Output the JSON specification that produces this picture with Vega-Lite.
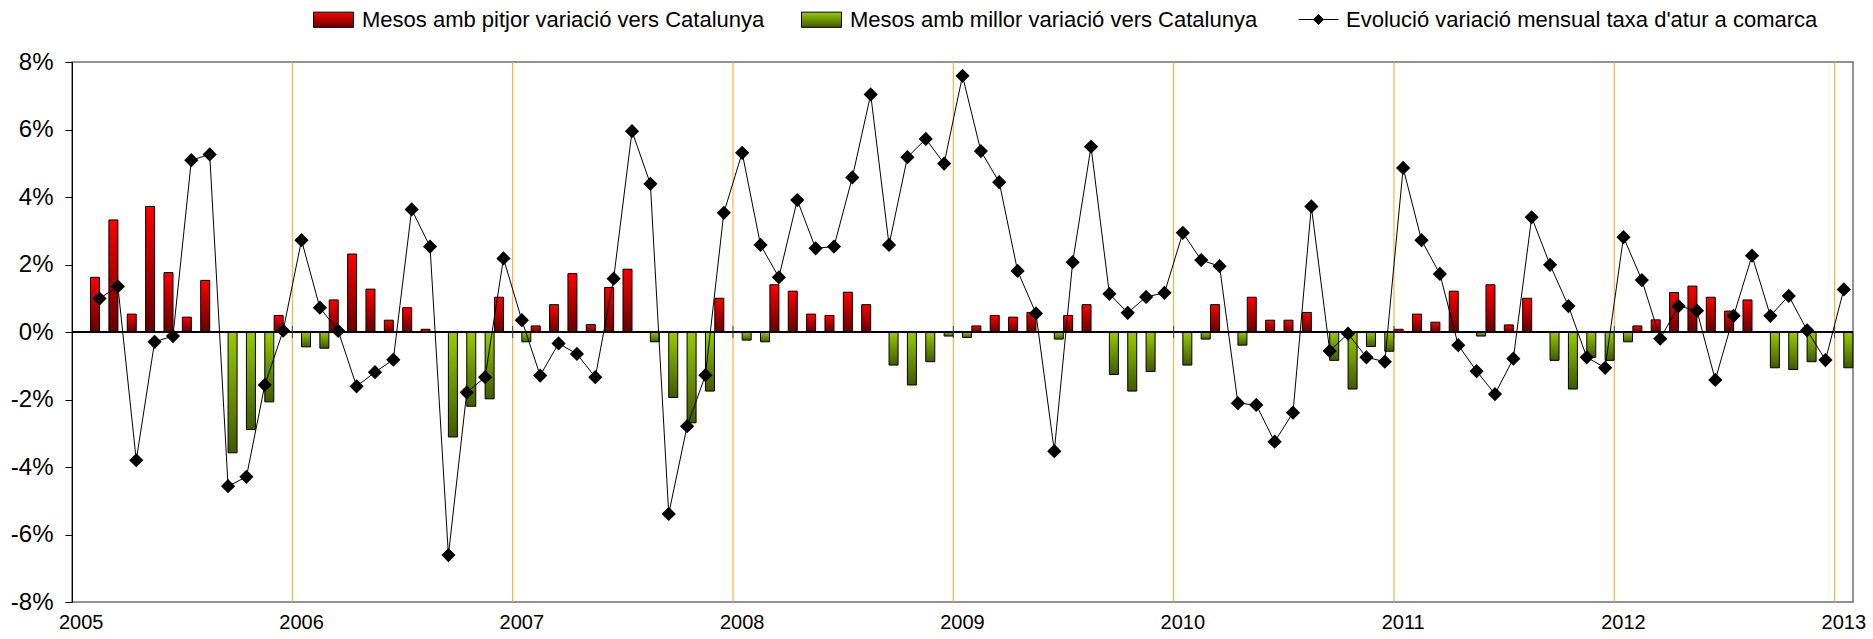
{
"$schema": "https://vega.github.io/schema/vega-lite/v6.json",
"width": 1781, "height": 540,
"autosize": {"type": "none"},
"padding": {"left": 72, "top": 62, "right": 20, "bottom": 37},
"config": {"view": {"stroke": "#707070", "strokeWidth": 1.5}, "font": "Liberation Sans", "axis": {"labelFont": "Liberation Sans"}, "legend": {"labelFont": "Liberation Sans"}},
"data": {"values": [
{"m":"2005-02","s":"pitjor","v":1.62},{"m":"2005-02","s":"evol","v":0.99},
{"m":"2005-03","s":"pitjor","v":3.32},{"m":"2005-03","s":"evol","v":1.35},
{"m":"2005-04","s":"pitjor","v":0.53},{"m":"2005-04","s":"evol","v":-3.80},
{"m":"2005-05","s":"pitjor","v":3.72},{"m":"2005-05","s":"evol","v":-0.29},
{"m":"2005-06","s":"pitjor","v":1.76},{"m":"2005-06","s":"evol","v":-0.12},
{"m":"2005-07","s":"pitjor","v":0.44},{"m":"2005-07","s":"evol","v":5.09},
{"m":"2005-08","s":"pitjor","v":1.53},{"m":"2005-08","s":"evol","v":5.26},
{"m":"2005-09","s":"millor","v":-3.58},{"m":"2005-09","s":"evol","v":-4.57},
{"m":"2005-10","s":"millor","v":-2.89},{"m":"2005-10","s":"evol","v":-4.29},
{"m":"2005-11","s":"millor","v":-2.07},{"m":"2005-11","s":"evol","v":-1.57},
{"m":"2005-12","s":"pitjor","v":0.49},{"m":"2005-12","s":"evol","v":0.04},
{"m":"2006-01","s":"millor","v":-0.44},{"m":"2006-01","s":"evol","v":2.72},
{"m":"2006-02","s":"millor","v":-0.48},{"m":"2006-02","s":"evol","v":0.72},
{"m":"2006-03","s":"pitjor","v":0.95},{"m":"2006-03","s":"evol","v":0.03},
{"m":"2006-04","s":"pitjor","v":2.31},{"m":"2006-04","s":"evol","v":-1.61},
{"m":"2006-05","s":"pitjor","v":1.27},{"m":"2006-05","s":"evol","v":-1.19},
{"m":"2006-06","s":"pitjor","v":0.35},{"m":"2006-06","s":"evol","v":-0.82},
{"m":"2006-07","s":"pitjor","v":0.72},{"m":"2006-07","s":"evol","v":3.63},
{"m":"2006-08","s":"pitjor","v":0.08},{"m":"2006-08","s":"evol","v":2.53},
{"m":"2006-09","s":"millor","v":-3.11},{"m":"2006-09","s":"evol","v":-6.61},
{"m":"2006-10","s":"millor","v":-2.20},{"m":"2006-10","s":"evol","v":-1.79},
{"m":"2006-11","s":"millor","v":-1.98},{"m":"2006-11","s":"evol","v":-1.34},
{"m":"2006-12","s":"pitjor","v":1.03},{"m":"2006-12","s":"evol","v":2.18},
{"m":"2007-01","s":"millor","v":-0.29},{"m":"2007-01","s":"evol","v":0.35},
{"m":"2007-02","s":"pitjor","v":0.18},{"m":"2007-02","s":"evol","v":-1.29},
{"m":"2007-03","s":"pitjor","v":0.81},{"m":"2007-03","s":"evol","v":-0.34},
{"m":"2007-04","s":"pitjor","v":1.73},{"m":"2007-04","s":"evol","v":-0.65},
{"m":"2007-05","s":"pitjor","v":0.22},{"m":"2007-05","s":"evol","v":-1.34},
{"m":"2007-06","s":"pitjor","v":1.32},{"m":"2007-06","s":"evol","v":1.58},
{"m":"2007-07","s":"pitjor","v":1.86},{"m":"2007-07","s":"evol","v":5.95},
{"m":"2007-08","s":"millor","v":-0.29},{"m":"2007-08","s":"evol","v":4.39},
{"m":"2007-09","s":"millor","v":-1.94},{"m":"2007-09","s":"evol","v":-5.39},
{"m":"2007-10","s":"millor","v":-2.69},{"m":"2007-10","s":"evol","v":-2.79},
{"m":"2007-11","s":"millor","v":-1.75},{"m":"2007-11","s":"evol","v":-1.28},
{"m":"2007-12","s":"pitjor","v":1.00},{"m":"2007-12","s":"evol","v":3.53},
{"m":"2008-01","s":"millor","v":-0.24},{"m":"2008-01","s":"evol","v":5.31},
{"m":"2008-02","s":"millor","v":-0.29},{"m":"2008-02","s":"evol","v":2.58},
{"m":"2008-03","s":"pitjor","v":1.40},{"m":"2008-03","s":"evol","v":1.62},
{"m":"2008-04","s":"pitjor","v":1.21},{"m":"2008-04","s":"evol","v":3.91},
{"m":"2008-05","s":"pitjor","v":0.53},{"m":"2008-05","s":"evol","v":2.48},
{"m":"2008-06","s":"pitjor","v":0.49},{"m":"2008-06","s":"evol","v":2.53},
{"m":"2008-07","s":"pitjor","v":1.18},{"m":"2008-07","s":"evol","v":4.58},
{"m":"2008-08","s":"pitjor","v":0.81},{"m":"2008-08","s":"evol","v":7.04},
{"m":"2008-09","s":"millor","v":-0.98},{"m":"2008-09","s":"evol","v":2.58},
{"m":"2008-10","s":"millor","v":-1.57},{"m":"2008-10","s":"evol","v":5.18},
{"m":"2008-11","s":"millor","v":-0.88},{"m":"2008-11","s":"evol","v":5.72},
{"m":"2008-12","s":"millor","v":-0.12},{"m":"2008-12","s":"evol","v":4.99},
{"m":"2009-01","s":"millor","v":-0.16},{"m":"2009-01","s":"evol","v":7.59},
{"m":"2009-02","s":"pitjor","v":0.18},{"m":"2009-02","s":"evol","v":5.36},
{"m":"2009-03","s":"pitjor","v":0.49},{"m":"2009-03","s":"evol","v":4.44},
{"m":"2009-04","s":"pitjor","v":0.44},{"m":"2009-04","s":"evol","v":1.81},
{"m":"2009-05","s":"pitjor","v":0.58},{"m":"2009-05","s":"evol","v":0.55},
{"m":"2009-06","s":"millor","v":-0.21},{"m":"2009-06","s":"evol","v":-3.53},
{"m":"2009-07","s":"pitjor","v":0.49},{"m":"2009-07","s":"evol","v":2.07},
{"m":"2009-08","s":"pitjor","v":0.81},{"m":"2009-08","s":"evol","v":5.49},
{"m":"2009-09","s":"millor","v":-1.26},{"m":"2009-09","s":"evol","v":1.13},
{"m":"2009-10","s":"millor","v":-1.75},{"m":"2009-10","s":"evol","v":0.57},
{"m":"2009-11","s":"millor","v":-1.17},{"m":"2009-11","s":"evol","v":1.04},
{"m":"2009-12","s":"evol","v":1.16},
{"m":"2010-01","s":"millor","v":-0.98},{"m":"2010-01","s":"evol","v":2.94},
{"m":"2010-02","s":"millor","v":-0.21},{"m":"2010-02","s":"evol","v":2.13},
{"m":"2010-03","s":"pitjor","v":0.81},{"m":"2010-03","s":"evol","v":1.95},
{"m":"2010-04","s":"millor","v":-0.39},{"m":"2010-04","s":"evol","v":-2.11},
{"m":"2010-05","s":"pitjor","v":1.03},{"m":"2010-05","s":"evol","v":-2.16},
{"m":"2010-06","s":"pitjor","v":0.35},{"m":"2010-06","s":"evol","v":-3.25},
{"m":"2010-07","s":"pitjor","v":0.35},{"m":"2010-07","s":"evol","v":-2.39},
{"m":"2010-08","s":"pitjor","v":0.58},{"m":"2010-08","s":"evol","v":3.72},
{"m":"2010-09","s":"millor","v":-0.84},{"m":"2010-09","s":"evol","v":-0.56},
{"m":"2010-10","s":"millor","v":-1.69},{"m":"2010-10","s":"evol","v":-0.05},
{"m":"2010-11","s":"millor","v":-0.43},{"m":"2010-11","s":"evol","v":-0.75},
{"m":"2010-12","s":"millor","v":-0.57},{"m":"2010-12","s":"evol","v":-0.88},
{"m":"2011-01","s":"pitjor","v":0.08},{"m":"2011-01","s":"evol","v":4.86},
{"m":"2011-02","s":"pitjor","v":0.53},{"m":"2011-02","s":"evol","v":2.72},
{"m":"2011-03","s":"pitjor","v":0.29},{"m":"2011-03","s":"evol","v":1.72},
{"m":"2011-04","s":"pitjor","v":1.21},{"m":"2011-04","s":"evol","v":-0.39},
{"m":"2011-05","s":"millor","v":-0.12},{"m":"2011-05","s":"evol","v":-1.16},
{"m":"2011-06","s":"pitjor","v":1.40},{"m":"2011-06","s":"evol","v":-1.84},
{"m":"2011-07","s":"pitjor","v":0.21},{"m":"2011-07","s":"evol","v":-0.79},
{"m":"2011-08","s":"pitjor","v":1.00},{"m":"2011-08","s":"evol","v":3.40},
{"m":"2011-09","s":"millor","v":-0.84},{"m":"2011-09","s":"evol","v":1.99},
{"m":"2011-10","s":"millor","v":-1.69},{"m":"2011-10","s":"evol","v":0.77},
{"m":"2011-11","s":"millor","v":-0.75},{"m":"2011-11","s":"evol","v":-0.75},
{"m":"2011-12","s":"millor","v":-0.84},{"m":"2011-12","s":"evol","v":-1.06},
{"m":"2012-01","s":"millor","v":-0.29},{"m":"2012-01","s":"evol","v":2.81},
{"m":"2012-02","s":"pitjor","v":0.18},{"m":"2012-02","s":"evol","v":1.54},
{"m":"2012-03","s":"pitjor","v":0.36},{"m":"2012-03","s":"evol","v":-0.20},
{"m":"2012-04","s":"pitjor","v":1.17},{"m":"2012-04","s":"evol","v":0.77},
{"m":"2012-05","s":"pitjor","v":1.36},{"m":"2012-05","s":"evol","v":0.63},
{"m":"2012-06","s":"pitjor","v":1.03},{"m":"2012-06","s":"evol","v":-1.42},
{"m":"2012-07","s":"pitjor","v":0.62},{"m":"2012-07","s":"evol","v":0.48},
{"m":"2012-08","s":"pitjor","v":0.95},{"m":"2012-08","s":"evol","v":2.26},
{"m":"2012-09","s":"millor","v":-1.06},{"m":"2012-09","s":"evol","v":0.48},
{"m":"2012-10","s":"millor","v":-1.11},{"m":"2012-10","s":"evol","v":1.07},
{"m":"2012-11","s":"millor","v":-0.88},{"m":"2012-11","s":"evol","v":0.05},
{"m":"2012-12","s":"evol","v":-0.83},
{"m":"2013-01","s":"millor","v":-1.06},{"m":"2013-01","s":"evol","v":1.26}
]},
"layer": [
{
"data": {"values": [{"m":"2006-01"},{"m":"2007-01"},{"m":"2008-01"},{"m":"2009-01"},{"m":"2010-01"},{"m":"2011-01"},{"m":"2012-01"},{"m":"2013-01"}]},
"mark": {"type": "rule", "color": "#FFA21F", "strokeWidth": 1},
"encoding": {"x": {"field": "m", "type": "ordinal", "bandPosition": 0, "scale": {"domain": ["2005-01","2005-02","2005-03","2005-04","2005-05","2005-06","2005-07","2005-08","2005-09","2005-10","2005-11","2005-12","2006-01","2006-02","2006-03","2006-04","2006-05","2006-06","2006-07","2006-08","2006-09","2006-10","2006-11","2006-12","2007-01","2007-02","2007-03","2007-04","2007-05","2007-06","2007-07","2007-08","2007-09","2007-10","2007-11","2007-12","2008-01","2008-02","2008-03","2008-04","2008-05","2008-06","2008-07","2008-08","2008-09","2008-10","2008-11","2008-12","2009-01","2009-02","2009-03","2009-04","2009-05","2009-06","2009-07","2009-08","2009-09","2009-10","2009-11","2009-12","2010-01","2010-02","2010-03","2010-04","2010-05","2010-06","2010-07","2010-08","2010-09","2010-10","2010-11","2010-12","2011-01","2011-02","2011-03","2011-04","2011-05","2011-06","2011-07","2011-08","2011-09","2011-10","2011-11","2011-12","2012-01","2012-02","2012-03","2012-04","2012-05","2012-06","2012-07","2012-08","2012-09","2012-10","2012-11","2012-12","2013-01"], "paddingInner": 0, "paddingOuter": 0}}}
},
{
"transform": [{"filter": "datum.s != 'evol'"}],
"mark": {"type": "bar", "stroke": "black", "strokeWidth": 1},
"encoding": {
"x": {"field": "m", "type": "ordinal", "scale": {"domain": ["2005-01","2005-02","2005-03","2005-04","2005-05","2005-06","2005-07","2005-08","2005-09","2005-10","2005-11","2005-12","2006-01","2006-02","2006-03","2006-04","2006-05","2006-06","2006-07","2006-08","2006-09","2006-10","2006-11","2006-12","2007-01","2007-02","2007-03","2007-04","2007-05","2007-06","2007-07","2007-08","2007-09","2007-10","2007-11","2007-12","2008-01","2008-02","2008-03","2008-04","2008-05","2008-06","2008-07","2008-08","2008-09","2008-10","2008-11","2008-12","2009-01","2009-02","2009-03","2009-04","2009-05","2009-06","2009-07","2009-08","2009-09","2009-10","2009-11","2009-12","2010-01","2010-02","2010-03","2010-04","2010-05","2010-06","2010-07","2010-08","2010-09","2010-10","2010-11","2010-12","2011-01","2011-02","2011-03","2011-04","2011-05","2011-06","2011-07","2011-08","2011-09","2011-10","2011-11","2011-12","2012-01","2012-02","2012-03","2012-04","2012-05","2012-06","2012-07","2012-08","2012-09","2012-10","2012-11","2012-12","2013-01"], "paddingInner": 0, "paddingOuter": 0},
 "axis": {"values": ["2005-01","2006-01","2007-01","2008-01","2009-01","2010-01","2011-01","2012-01","2013-01"], "bandPosition": 0.5, "labelExpr": "slice(datum.value, 0, 4)", "ticks": false, "domain": false, "labelFontSize": 20, "labelPadding": 20, "labelAngle": 0, "labelAlign": "center", "labelColor": "black", "title": null, "labelOverlap": false}},
"xOffset": {"field": "s", "scale": {"domain": ["pitjor", "millor"], "paddingInner": 0, "paddingOuter": 0.02}},
"y": {"field": "v", "type": "quantitative", "scale": {"domain": [-8, 8], "nice": false},
 "axis": {"values": [-8,-6,-4,-2,0,2,4,6,8], "labelExpr": "datum.value + '%'", "grid": false, "tickSize": 7, "tickColor": "black", "domainColor": "black", "labelFontSize": 24, "labelPadding": 12, "labelColor": "black", "title": null}},
"color": {"field": "s", "type": "nominal",
 "scale": {"domain": ["pitjor", "millor"], "range": [
  {"expr": "{gradient: 'linear', x1: 0, y1: 0, x2: 0, y2: 1, stops: [{offset: 0, color: '#ff0000'}, {offset: 1, color: '#640000'}]}"},
  {"expr": "{gradient: 'linear', x1: 0, y1: 0, x2: 0, y2: 1, stops: [{offset: 0, color: '#99cc00'}, {offset: 1, color: '#3f5a00'}]}"}]},
 "legend": {"title": null, "orient": "none", "legendX": 241, "legendY": -63, "direction": "horizontal", "columns": 2, "columnPadding": 34,
  "labelFontSize": 22, "labelColor": "black", "labelOffset": 8, "labelLimit": 1000, "symbolSize": 1600,
  "symbolType": "M-1,-0.38L1,-0.38L1,0.38L-1,0.38Z", "symbolStrokeColor": "black", "symbolStrokeWidth": 1,
  "labelExpr": "datum.value == 'pitjor' ? 'Mesos amb pitjor variació vers Catalunya' : 'Mesos amb millor variació vers Catalunya'"}}
}
},
{
"mark": {"type": "rule", "color": "black", "strokeWidth": 1},
"encoding": {"y": {"datum": 0}}
},
{
"data": {"values": [{"m":"2006-01"},{"m":"2007-01"},{"m":"2008-01"},{"m":"2009-01"},{"m":"2010-01"},{"m":"2011-01"},{"m":"2012-01"},{"m":"2013-01"}]},
"mark": {"type": "rule", "color": "#404040", "strokeWidth": 1},
"encoding": {"x": {"field": "m", "type": "ordinal", "bandPosition": 0, "scale": {"domain": ["2005-01","2005-02","2005-03","2005-04","2005-05","2005-06","2005-07","2005-08","2005-09","2005-10","2005-11","2005-12","2006-01","2006-02","2006-03","2006-04","2006-05","2006-06","2006-07","2006-08","2006-09","2006-10","2006-11","2006-12","2007-01","2007-02","2007-03","2007-04","2007-05","2007-06","2007-07","2007-08","2007-09","2007-10","2007-11","2007-12","2008-01","2008-02","2008-03","2008-04","2008-05","2008-06","2008-07","2008-08","2008-09","2008-10","2008-11","2008-12","2009-01","2009-02","2009-03","2009-04","2009-05","2009-06","2009-07","2009-08","2009-09","2009-10","2009-11","2009-12","2010-01","2010-02","2010-03","2010-04","2010-05","2010-06","2010-07","2010-08","2010-09","2010-10","2010-11","2010-12","2011-01","2011-02","2011-03","2011-04","2011-05","2011-06","2011-07","2011-08","2011-09","2011-10","2011-11","2011-12","2012-01","2012-02","2012-03","2012-04","2012-05","2012-06","2012-07","2012-08","2012-09","2012-10","2012-11","2012-12","2013-01"], "paddingInner": 0, "paddingOuter": 0}},
 "y": {"datum": -0.18}, "y2": {"datum": 0.18}}
},
{
"transform": [{"filter": "datum.s == 'evol'"}],
"mark": {"type": "line", "strokeWidth": 1, "point": {"shape": "diamond", "size": 130, "filled": true, "color": "black"}},
"encoding": {
"x": {"field": "m", "type": "ordinal", "scale": {"domain": ["2005-01","2005-02","2005-03","2005-04","2005-05","2005-06","2005-07","2005-08","2005-09","2005-10","2005-11","2005-12","2006-01","2006-02","2006-03","2006-04","2006-05","2006-06","2006-07","2006-08","2006-09","2006-10","2006-11","2006-12","2007-01","2007-02","2007-03","2007-04","2007-05","2007-06","2007-07","2007-08","2007-09","2007-10","2007-11","2007-12","2008-01","2008-02","2008-03","2008-04","2008-05","2008-06","2008-07","2008-08","2008-09","2008-10","2008-11","2008-12","2009-01","2009-02","2009-03","2009-04","2009-05","2009-06","2009-07","2009-08","2009-09","2009-10","2009-11","2009-12","2010-01","2010-02","2010-03","2010-04","2010-05","2010-06","2010-07","2010-08","2010-09","2010-10","2010-11","2010-12","2011-01","2011-02","2011-03","2011-04","2011-05","2011-06","2011-07","2011-08","2011-09","2011-10","2011-11","2011-12","2012-01","2012-02","2012-03","2012-04","2012-05","2012-06","2012-07","2012-08","2012-09","2012-10","2012-11","2012-12","2013-01"], "paddingInner": 0, "paddingOuter": 0}},
"y": {"field": "v", "type": "quantitative", "scale": {"domain": [-8, 8], "nice": false}},
"stroke": {"datum": "Evolució variació mensual taxa d'atur a comarca", "type": "nominal",
 "scale": {"range": ["black"]},
 "legend": {"title": null, "orient": "none", "legendX": 1226, "legendY": -63, "direction": "horizontal",
  "labelFontSize": 22, "labelColor": "black", "labelOffset": 7, "labelLimit": 1000, "symbolSize": 1600,
  "symbolType": "M-1,0L1,0M-0.25,0L0,-0.25L0.25,0L0,0.25Z", "symbolFillColor": "black", "symbolStrokeColor": "black", "symbolStrokeWidth": 1}}
}
}
]
}
